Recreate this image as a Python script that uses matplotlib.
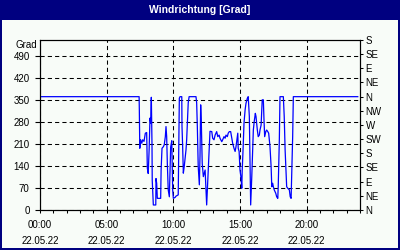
import matplotlib.pyplot as plt
from matplotlib.patches import Rectangle
import numpy as np

# wind direction readings, minutes since midnight -> degrees
minutes = [0, 446, 447, 449, 453, 458, 462, 468, 474, 480, 483, 487, 491, 495, 498,
           501, 504, 505, 510, 521, 522, 525, 528, 543, 545, 549, 555, 559, 564, 567,
           570, 573, 577, 582, 588, 593, 597, 600, 608, 612, 622, 627, 630, 638, 639,
           642, 645, 649, 654, 657, 660, 663, 667, 671, 702, 705, 708, 712, 717, 720,
           723, 726, 730, 735, 743, 747, 750, 755, 761, 765, 773, 777, 783, 788, 795,
           800, 806, 810, 818, 822, 828, 833, 837, 843, 847, 852, 858, 863, 867, 873,
           878, 882, 885, 890, 892, 896, 900, 905, 908, 910, 914, 918, 923, 927, 933,
           937, 942, 945, 948, 953, 957, 960, 964, 969, 972, 975, 978, 982, 987, 990,
           995, 998, 1000, 1005, 1008, 1011, 1016, 1020, 1025, 1029, 1035, 1040, 1043,
           1047, 1050, 1054, 1061, 1065, 1070, 1072, 1077, 1080, 1095, 1099, 1103, 1107,
           1110, 1115, 1122, 1126, 1130, 1133, 1137, 1140, 1430]
degrees = [360, 360, 318, 196, 223, 212, 223, 218, 244, 246, 133, 116, 190, 292, 276,
           358, 207, 95, 16, 16, 100, 85, 37, 37, 127, 196, 201, 207, 233, 265,
           233, 148, 64, 42, 200, 220, 64, 37, 40, 44, 48, 355, 360, 360, 265,
           200, 117, 138, 170, 191, 223, 276, 340, 360, 360, 340, 265, 138, 80, 170,
           334, 276, 148, 106, 127, 64, 16, 95, 191, 250, 249, 228, 223, 238, 249,
           233, 238, 228, 217, 223, 233, 228, 238, 233, 244, 249, 249, 228, 212, 196,
           186, 201, 217, 244, 196, 186, 127, 100, 69, 127, 196, 276, 318, 339, 355,
           360, 297, 148, 16, 106, 191, 254, 281, 307, 297, 276, 254, 233, 238, 254,
           270, 318, 350, 350, 286, 233, 249, 254, 249, 244, 201, 138, 74,
           85, 74, 64, 53, 42, 37, 74, 223, 360, 360, 297, 191, 122,
           74, 69, 64, 42, 37, 117, 233, 360, 360]

grad_ticks = [0, 70, 140, 210, 280, 350, 420, 490]
compass_deg = [0, 45, 90, 135, 180, 225, 270, 315, 360, 405, 450, 495, 540]
compass = ['N', 'NE', 'E', 'SE', 'S', 'SW', 'W', 'NW', 'N', 'NE', 'E', 'SE', 'S']
hour_ticks = [0, 5, 10, 15, 20]
hour_labels = ['00:00\n22.05.22', '05:00\n22.05.22', '10:00\n22.05.22',
               '15:00\n22.05.22', '20:00\n22.05.22']

navy = '#000080'
paper = '#f8fcf8'
plt.rcParams['font.family'] = 'Liberation Sans'

fig = plt.figure(figsize=(4, 2.5), dpi=100)
fig.patch.set_facecolor(navy)
# light inner panel below the title bar
fig.add_artist(Rectangle((2 / 400, 2 / 250), 396 / 400, 228 / 250,
                         transform=fig.transFigure, facecolor=paper,
                         edgecolor='none', zorder=0))
fig.text(0.5, 1 - 10 / 250, 'Windrichtung [Grad]', color='white',
         fontsize=7.5, weight='bold', ha='center', va='center')
fig.text(37 / 400, 1 - 45 / 250, 'Grad', fontsize=7, ha='right', va='center')

ax = fig.add_axes([0.1, 0.16, 0.8, 0.68])
ax.set_facecolor(paper)
ax.plot(np.array(minutes) / 60, degrees, color='#0000ff', lw=0.9, zorder=3)

ax.set_xlim(0, 24)
ax.set_ylim(0, 540)
ax.set_yticks(grad_ticks)
ax.set_xticks(hour_ticks, hour_labels)
ax.set_xticks(range(25), minor=True)
ax.grid(True, color='k', lw=0.75, ls=(0, (4, 3)))
ax.tick_params(axis='y', left=False, labelsize=7, pad=4)
ax.tick_params(axis='x', which='both', direction='out', length=2.2,
               width=0.75, labelsize=7, pad=5)
for lbl in ax.get_xticklabels():
    lbl.set_linespacing(1.7)
for s in ax.spines.values():
    s.set_linewidth(0.8)

ax2 = ax.twinx()
ax2.set_ylim(0, 540)
ax2.set_yticks(compass_deg, compass)
ax2.tick_params(axis='y', direction='out', length=2.5, width=0.75,
                labelsize=7, pad=1.5)

fig.savefig('out.png', dpi=100, facecolor=navy)
